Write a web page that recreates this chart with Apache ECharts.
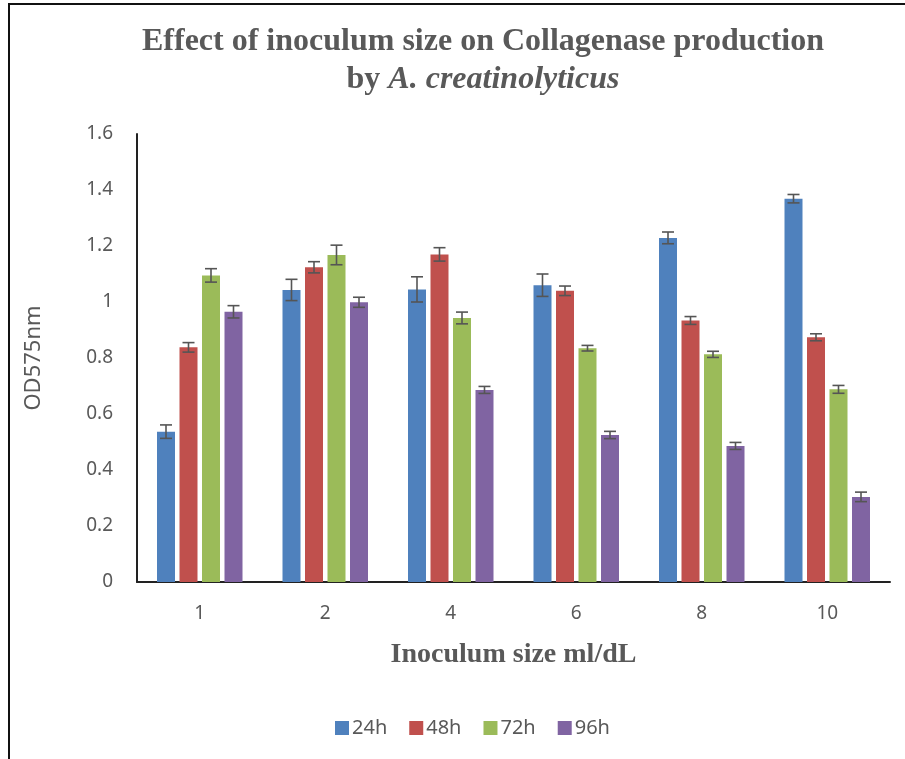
<!DOCTYPE html>
<html>
<head>
<meta charset="utf-8">
<script src="https://cdn.jsdelivr.net/npm/echarts@6/dist/echarts.min.js"></script>
<style>
  html, body { margin: 0; padding: 0; background: #fff; }
  #chart { width: 905px; height: 759px; }
</style>
</head>
<body>
<div id="chart"></div>
<script>
// inoculum sizes (ml/dL)
var categories = ["1", "2", "4", "6", "8", "10"];
var seriesNames = ["24h", "48h", "72h", "96h"];

// OD575nm readings, one row per incubation time
var values24 = [0.537, 1.043, 1.045, 1.060, 1.229, 1.369];
var values48 = [0.838, 1.124, 1.170, 1.040, 0.934, 0.874];
var values72 = [1.095, 1.168, 0.943, 0.835, 0.813, 0.688];
var values96 = [0.965, 0.999, 0.686, 0.525, 0.486, 0.304];

// error bar half widths (+/-)
var errors24 = [0.024, 0.038, 0.045, 0.040, 0.021, 0.015];
var errors48 = [0.017, 0.020, 0.024, 0.017, 0.014, 0.0125];
var errors72 = [0.024, 0.035, 0.021, 0.010, 0.011, 0.014];
var errors96 = [0.022, 0.018, 0.0125, 0.013, 0.0125, 0.017];

var yTicks = { min: 0, max: 1.6, interval: 0.2 };

var allValues = [values24, values48, values72, values96];
var allErrors = [errors24, errors48, errors72, errors96];
var colorList = ["#4F81BD", "#C0504D", "#9BBB59", "#8064A2"];

var barWidth = 18;
var barGap = 0.25; // fraction of bar width

var chart = echarts.init(document.getElementById("chart"));

var series = [];
seriesNames.forEach(function (name, i) {
  series.push({
    name: name,
    type: "bar",
    barWidth: barWidth,
    barGap: barGap * 100 + "%",
    itemStyle: { color: colorList[i] },
    data: allValues[i]
  });
});

// error bars drawn as custom series, shifted onto each bar of the group
seriesNames.forEach(function (name, i) {
  var errData = allValues[i].map(function (v, j) {
    return [j, v - allErrors[i][j], v + allErrors[i][j]];
  });
  series.push({
    type: "custom",
    name: name + "-err",
    silent: true,
    z: 5,
    renderItem: function (params, api) {
      var idx = api.value(0);
      var low = api.coord([idx, api.value(1)]);
      var high = api.coord([idx, api.value(2)]);
      var pitch = barWidth * (1 + barGap);
      var x = low[0] + (i - 1.5) * pitch;
      var cap = 6;
      var style = { stroke: "#555", lineWidth: 1.6 };
      return {
        type: "group",
        children: [
          { type: "line", shape: { x1: x, y1: high[1], x2: x, y2: low[1] }, style: style },
          { type: "line", shape: { x1: x - cap, y1: high[1], x2: x + cap, y2: high[1] }, style: style },
          { type: "line", shape: { x1: x - cap, y1: low[1], x2: x + cap, y2: low[1] }, style: style }
        ]
      };
    },
    encode: { x: 0, y: [1, 2] },
    data: errData
  });
});

var option = {
  animation: false,
  title: {
    text: "{b|Effect of inoculum size on Collagenase production}\n{b|by }{bi|A. creatinolyticus}",
    left: 478,
    textAlign: "center",
    top: 18,
    textStyle: {
      rich: {
        b: {
          fontFamily: "Liberation Serif",
          fontWeight: "bold",
          fontSize: 32,
          lineHeight: 38,
          color: "#595959"
        },
        bi: {
          fontFamily: "Liberation Serif",
          fontWeight: "bold",
          fontStyle: "italic",
          fontSize: 32,
          lineHeight: 38,
          color: "#595959"
        }
      }
    }
  },
  legend: {
    data: seriesNames,
    left: 330,
    top: 713,
    itemWidth: 14,
    itemHeight: 14,
    itemGap: 22,
    icon: "rect",
    textStyle: {
      fontFamily: "Noto Sans",
      fontSize: 20,
      color: "#595959",
      padding: [0, 0, 0, -2]
    }
  },
  grid: {
    left: 137,
    right: 15,
    top: 134,
    bottom: 177
  },
  xAxis: {
    type: "category",
    data: categories,
    name: "Inoculum size ml/dL",
    nameLocation: "middle",
    nameGap: 59,
    nameTextStyle: {
      fontFamily: "Liberation Serif",
      fontWeight: "bold",
      fontSize: 28,
      color: "#595959"
    },
    axisLine: { lineStyle: { color: "#222", width: 2 } },
    axisTick: { show: false },
    axisLabel: {
      margin: 22,
      fontFamily: "Noto Sans",
      fontSize: 19,
      color: "#595959"
    }
  },
  yAxis: {
    type: "value",
    min: yTicks.min,
    max: yTicks.max,
    interval: yTicks.interval,
    name: "OD575nm",
    nameLocation: "middle",
    nameGap: 92,
    nameTextStyle: {
      fontFamily: "Noto Sans",
      fontSize: 22,
      color: "#595959"
    },
    axisLine: { show: true, lineStyle: { color: "#222", width: 2 } },
    axisTick: { show: false },
    splitLine: { show: false },
    axisLabel: {
      margin: 24,
      fontFamily: "Noto Sans",
      fontSize: 19,
      color: "#595959"
    }
  },
  graphic: [
    {
      type: "polyline",
      shape: { points: [[9, 759], [9, 4], [905, 4]] },
      style: { stroke: "#111", lineWidth: 2, fill: null }
    }
  ],
  series: series
};

chart.setOption(option);
</script>
</body>
</html>
